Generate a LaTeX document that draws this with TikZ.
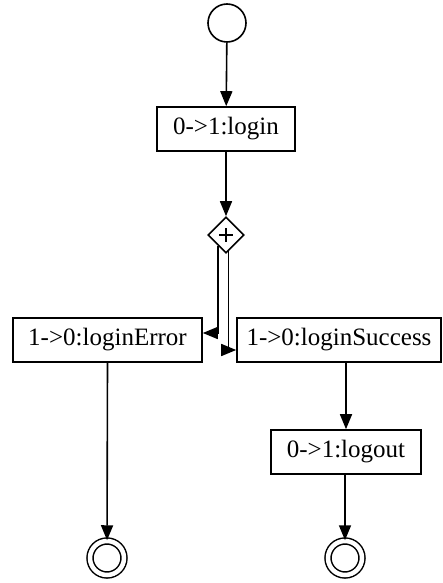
\documentclass[tikz,border=0pt]{standalone}
\usepackage{fontspec}
\setmainfont{Liberation Serif}
\usetikzlibrary{arrows.meta,shapes.geometric,calc}
\begin{document}
\begin{tikzpicture}[x=1pt,y=-1pt,
  every node/.style={line width=1.6pt},
  act/.style={draw,rectangle,inner sep=0pt,minimum height=44pt,font=\fontsize{25}{30}\selectfont},
  startst/.style={draw,circle,inner sep=0pt,minimum size=38pt},
  endst/.style={draw,circle,inner sep=0pt,minimum size=38pt,double=white,double distance=4.5pt,line width=1.5pt},
  gate/.style={draw,diamond,aspect=1,inner sep=0pt,minimum size=36pt},
  flow/.style={line width=1.6pt,-{Triangle[length=15pt,width=12pt]}}]
\useasboundingbox (0,0) rectangle (443,583);
\node[startst] (start) at (227,23) {};
\node[act,minimum width=138pt] (login) at (226,129) {0->1:login};
\node[gate] (fork) at (226,235) {};
\draw[line width=2.2pt] ($(fork.center)+(-7,0)$) -- ($(fork.center)+(7,0)$)
  ($(fork.center)+(0,-7)$) -- ($(fork.center)+(0,7)$);
\node[act,minimum width=189pt] (err) at (107.5,340) {1->0:loginError};
\node[act,minimum width=204pt] (succ) at (339,340) {1->0:loginSuccess};
\node[act,minimum width=150pt] (logout) at (346,452) {0->1:logout};
\node[endst,minimum size=34pt] (end1) at (107,558) {};
\node[endst,minimum size=34pt] (end2) at (345,558) {};
\draw[flow] (start) -- (login);
\draw[flow] (login) -- (fork);
\draw[flow] (fork.-125) |- ([yshift=7pt]err.east);
\draw[flow] (fork.-82) |- ([yshift=-10pt]succ.west);
\draw[flow] (err.south) -- (end1);
\draw[flow] (logout.north |- succ.south) -- (logout.north);
\draw[flow] (logout.south -| end2.north) -- (end2);
\end{tikzpicture}
\end{document}
